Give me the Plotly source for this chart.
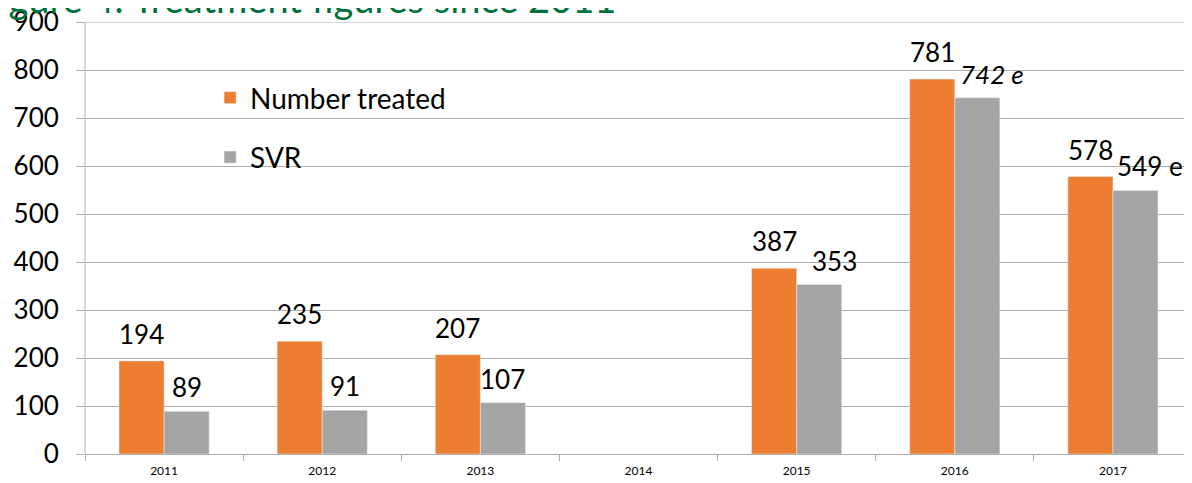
import plotly.graph_objects as go

years = ["2011", "2012", "2013", "2014", "2015", "2016", "2017"]
treated = [194, 235, 207, None, 387, 781, 578]
svr = [89, 91, 107, None, 353, 742, 549]
treated_labels = ["194", "235", "207", "", "387", "781", "578"]
svr_labels = ["89", "91", "107", "", "353", "<i>742 e</i>", "549 e"]
y_ticks = [0, 100, 200, 300, 400, 500, 600, 700, 800, 900]

ORANGE = "#ED7D31"
GRAY = "#A5A5A5"
GRID = "#ADADAD"
FONT = "Lato"

fig = go.Figure()
fig.add_trace(go.Bar(x=years, y=treated, name="Number treated", marker_color=ORANGE,
                     legendgroup="a"))
fig.add_trace(go.Bar(x=years, y=svr, name="SVR", marker_color=GRAY, legendgroup="b"))

for i, (v, t) in enumerate(zip(treated, treated_labels)):
    if v is not None:
        fig.add_annotation(x=i, y=v, text=t, showarrow=False, xshift=-22.5, yshift=27,
                           font=dict(family=FONT, size=26, color="#000"))
for i, (v, t) in enumerate(zip(svr, svr_labels)):
    if v is not None:
        dx = 22.5 + (15 if "e" in t or v > 300 else 0)
        fig.add_annotation(x=i, y=v, text=t, showarrow=False, xshift=dx, yshift=24,
                           font=dict(family=FONT, size=26, color="#000"))

fig.add_annotation(xref="paper", yref="paper", x=-0.0986, y=0.998, xanchor="left",
                   yanchor="bottom", text="Figure 4: Treatment figures since 2011",
                   showarrow=False, font=dict(family=FONT, size=38, color="#00703C"))

fig.update_layout(
    width=1184, height=475,
    margin=dict(l=77, r=0, t=14, b=29),
    plot_bgcolor="white", paper_bgcolor="white",
    barmode="group", bargap=0.43, bargroupgap=0,
    font=dict(family=FONT, color="#000"),
    legend=dict(x=0.113, y=0.882, xanchor="left", yanchor="top",
                font=dict(family=FONT, size=28), tracegroupgap=20,
                bgcolor="rgba(0,0,0,0)"),
    showlegend=True,
)
fig.update_yaxes(range=[0, max(y_ticks)], tickvals=y_ticks, showgrid=True,
                 gridcolor=GRID,
                 gridwidth=1, ticks="outside", ticklen=8, tickcolor=GRID,
                 ticklabelstandoff=12, ticklabeloverflow="allow",
                 tickfont=dict(family=FONT, size=26), showline=False, zeroline=False,
                 automargin=False)
fig.update_xaxes(type="category", range=[-0.5, len(years) - 0.5], showline=True,
                 linecolor=GRID, ticks="outside", ticklabelstandoff=6,
                 tickson="boundaries", ticklen=6, tickcolor=GRID,
                 tickfont=dict(family=FONT, size=12), automargin=False,
                 categoryorder="array", categoryarray=years)
fig.add_shape(type="line", xref="paper", yref="paper", x0=0, x1=0, y0=0, y1=1,
              line=dict(color=GRID, width=1))
# top gridline (at the axis maximum)
fig.add_shape(type="line", xref="paper", yref="y", x0=0, x1=1,
              y0=max(y_ticks), y1=max(y_ticks), line=dict(color=GRID, width=1))

fig.write_html("out.html")
